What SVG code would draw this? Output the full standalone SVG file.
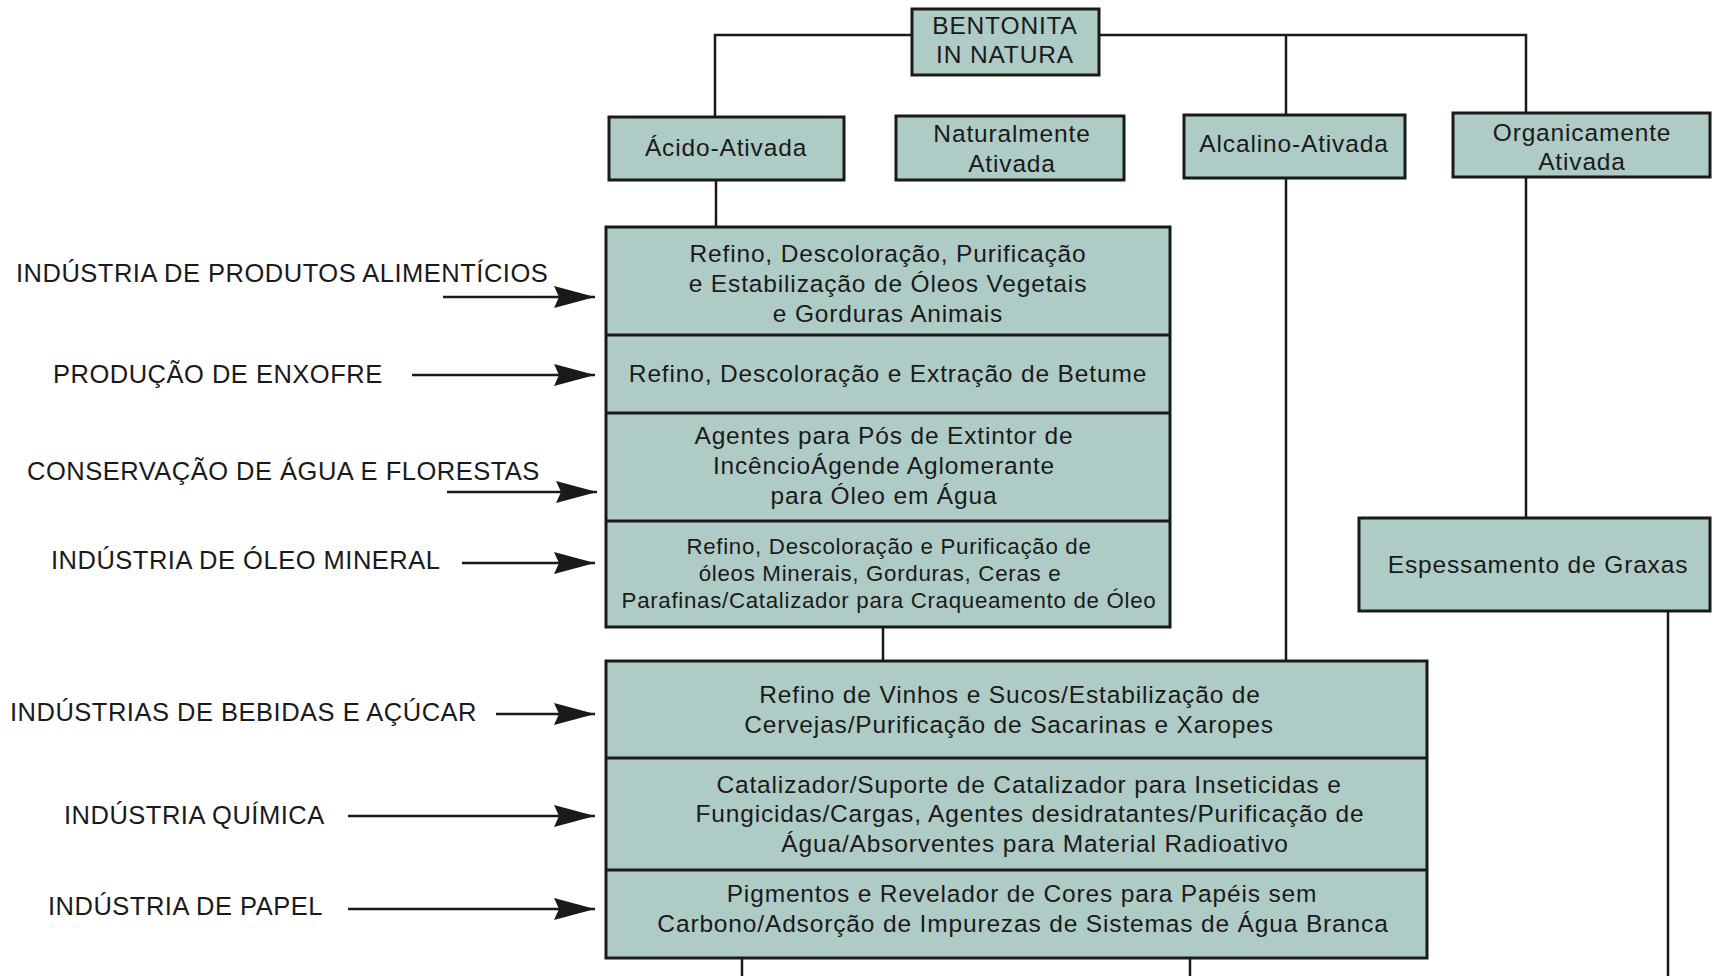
<svg xmlns="http://www.w3.org/2000/svg" width="1718" height="976" viewBox="0 0 1718 976">
<defs>
<style>
.box{fill:#afcbc6;stroke:#1a1a1a;stroke-width:3}
.div{stroke:#1a1a1a;stroke-width:3;fill:none}
.ln{stroke:#1a1a1a;stroke-width:2.5;fill:none}
.ar{stroke:#1a1a1a;stroke-width:2.5;fill:none;marker-end:url(#ah)}
.t{font-family:"Liberation Sans",Arial,sans-serif;font-size:24.5px;letter-spacing:0.85px;fill:#1a1a1a;text-anchor:middle}
.ts{font-family:"Liberation Sans",Arial,sans-serif;font-size:22.3px;letter-spacing:0.7px;fill:#1a1a1a;text-anchor:middle}
.lb{font-family:"Liberation Sans",Arial,sans-serif;font-size:25.5px;letter-spacing:0.5px;fill:#1a1a1a}
</style>
<marker id="ah" markerUnits="userSpaceOnUse" markerWidth="44" markerHeight="26" refX="41" refY="12" orient="auto">
<path d="M0,1 L41,12 L0,23 L5,12 Z" fill="#1a1a1a"/>
</marker>
</defs>
<rect width="1718" height="976" fill="#ffffff"/>

<g id="connectors">
<path class="ln" d="M715,117 V35 H1526 V113"/>
<path class="ln" d="M1286,35 V115"/>
<path class="ln" d="M716,180 V227"/>
<path class="ln" d="M883,627 V661"/>
<path class="ln" d="M1286,178 V661"/>
<path class="ln" d="M1526,177 V517"/>
<path class="ln" d="M742,958 V976"/>
<path class="ln" d="M1190,958 V976"/>
<path class="ln" d="M1668,612 V976"/>
<path class="ar" d="M443,297 H595"/>
<path class="ar" d="M412,375 H595"/>
<path class="ar" d="M447,492 H597"/>
<path class="ar" d="M462,563 H595"/>
<path class="ar" d="M496,714 H595"/>
<path class="ar" d="M348,816 H595"/>
<path class="ar" d="M348,909 H595"/>
</g>

<g id="bentonita">
<rect class="box" x="912" y="9" width="187" height="66"/>
<text class="t" x="1005" y="34">BENTONITA</text>
<text class="t" x="1005" y="63">IN NATURA</text>
</g>

<g id="acido">
<rect class="box" x="609" y="117" width="235" height="63"/>
<text class="t" x="726" y="156">Ácido-Ativada</text>
</g>

<g id="naturalmente">
<rect class="box" x="896" y="116" width="228" height="64"/>
<text class="t" x="1012" y="142">Naturalmente</text>
<text class="t" x="1012" y="172">Ativada</text>
</g>

<g id="alcalino">
<rect class="box" x="1184" y="115" width="221" height="63"/>
<text class="t" x="1294" y="152">Alcalino-Ativada</text>
</g>

<g id="organicamente">
<rect class="box" x="1453" y="113" width="257" height="64"/>
<text class="t" x="1582" y="141">Organicamente</text>
<text class="t" x="1582" y="170">Ativada</text>
</g>

<g id="espessamento">
<rect class="box" x="1359" y="518" width="351" height="93"/>
<text class="t" x="1538" y="573">Espessamento de Graxas</text>
</g>

<g id="acid-uses">
<rect class="box" x="606" y="227" width="564" height="400"/>
<path class="div" d="M606,335 H1170 M606,413 H1170 M606,521 H1170"/>
<text class="t" x="888" y="262">Refino, Descoloração, Purificação</text>
<text class="t" x="888" y="292">e Estabilização de Óleos Vegetais</text>
<text class="t" x="888" y="322">e Gorduras Animais</text>
<text class="t" x="888" y="382">Refino, Descoloração e Extração de Betume</text>
<text class="t" x="884" y="444">Agentes para Pós de Extintor de</text>
<text class="t" x="884" y="474">IncêncioÁgende Aglomerante</text>
<text class="t" x="884" y="504">para Óleo em Água</text>
<text class="ts" x="889" y="554">Refino, Descoloração e Purificação de</text>
<text class="ts" x="880" y="581">óleos Minerais, Gorduras, Ceras e</text>
<text class="ts" x="889" y="608">Parafinas/Catalizador para Craqueamento de Óleo</text>
</g>

<g id="general-uses">
<rect class="box" x="606" y="661" width="821" height="297"/>
<path class="div" d="M606,758 H1427 M606,870 H1427"/>
<text class="t" x="1010" y="703">Refino de Vinhos e Sucos/Estabilização de</text>
<text class="t" x="1009" y="733">Cervejas/Purificação de Sacarinas e Xaropes</text>
<text class="t" x="1029" y="793">Catalizador/Suporte de Catalizador para Inseticidas e</text>
<text class="t" x="1030" y="822">Fungicidas/Cargas, Agentes desidratantes/Purificação de</text>
<text class="t" x="1035" y="852">Água/Absorventes para Material Radioativo</text>
<text class="t" x="1022" y="902">Pigmentos e Revelador de Cores para Papéis sem</text>
<text class="t" x="1023" y="932">Carbono/Adsorção de Impurezas de Sistemas de Água Branca</text>
</g>

<g id="labels">
<text class="lb" x="16" y="282">INDÚSTRIA DE PRODUTOS ALIMENTÍCIOS</text>
<text class="lb" x="53" y="383">PRODUÇÃO DE ENXOFRE</text>
<text class="lb" x="27" y="480">CONSERVAÇÃO DE ÁGUA E FLORESTAS</text>
<text class="lb" x="51" y="569">INDÚSTRIA DE ÓLEO MINERAL</text>
<text class="lb" x="10" y="721">INDÚSTRIAS DE BEBIDAS E AÇÚCAR</text>
<text class="lb" x="64" y="824">INDÚSTRIA QUÍMICA</text>
<text class="lb" x="48" y="915">INDÚSTRIA DE PAPEL</text>
</g>
</svg>
